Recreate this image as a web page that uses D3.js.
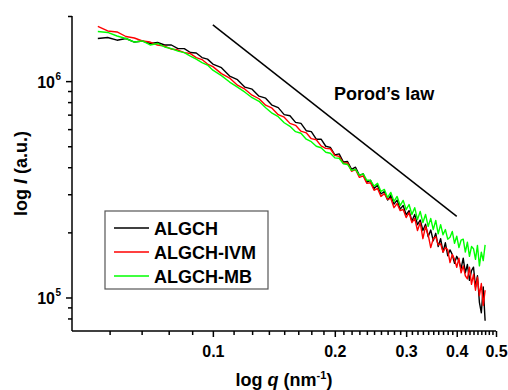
<!DOCTYPE html>
<html>
<head>
<meta charset="utf-8">
<script src="https://cdn.jsdelivr.net/npm/d3@7"></script>
<style>
  body { margin: 0; background: #fff; }
  svg text { font-family: "Liberation Sans", Arial, sans-serif; font-weight: bold; fill: #000; }
</style>
</head>
<body>
<figure id="saxs" style="margin:0"></figure>
<script>
// scattering vector q (nm^-1)
const q = [0.052,0.055,0.058,0.061,0.064,0.067,0.070,0.073,0.076,0.079,0.082,0.085,0.088,0.091,0.094,0.097,
  0.100,0.105,0.110,0.115,0.120,0.125,0.130,0.135,0.140,0.145,0.150,0.155,0.160,0.165,0.170,0.175,0.180,0.185,0.190,0.195,
  0.200,0.205,0.210,0.215,0.220,0.225,0.230,0.235,0.240,0.245,0.250,0.255,0.260,0.265,0.270,0.275,0.280,0.285,0.290,0.295,
  0.300,0.305,0.310,0.315,0.320,0.325,0.330,0.335,0.340,0.345,0.350,0.355,0.360,0.365,0.370,0.375,0.380,0.385,0.390,0.395,
  0.400,0.405,0.410,0.415,0.420,0.425,0.430,0.435,0.440,0.445,0.450,0.455,0.460,0.465,0.470];

// intensities, in units of 1e5 a.u.
const algch = [15.74,15.91,15.46,15.74,15.16,15.33,14.93,15.09,14.69,14.69,
  14.14,14.14,13.56,13.48,12.85,12.64,11.99,11.54,10.55,10.16,
  9.38,9.18,8.52,8.34,7.74,7.54,7.00,6.92,6.45,6.38,
  5.90,5.84,5.39,5.39,5.00,4.94,4.56,4.61,4.23,4.25,
  3.91,4.00,3.67,3.73,3.41,3.48,3.19,3.30,3.01,3.09,
  2.82,2.96,2.70,2.82,2.56,2.66,2.41,2.52,2.25,2.42,
  2.17,2.28,2.04,2.18,1.91,2.05,1.83,1.98,1.72,1.87,
  1.62,1.79,1.56,1.66,1.58,1.44,1.55,1.47,1.36,1.52,
  1.30,1.42,1.20,1.33,1.38,1.12,1.26,0.95,0.85,1.12,
  0.78];
const algchIvm = [17.89,17.06,16.88,16.08,15.82,15.33,15.16,14.69,14.53,14.07,
  13.92,13.55,13.41,12.85,12.58,11.99,11.67,10.83,10.33,9.58,
  9.18,8.61,8.29,7.74,7.50,7.00,6.81,6.38,6.25,5.87,
  5.77,5.42,5.36,5.02,4.89,4.87,4.54,4.49,4.17,4.19,
  3.83,3.91,3.59,3.65,3.37,3.39,3.13,3.19,2.93,3.02,
  2.84,2.87,2.60,2.72,2.52,2.55,2.34,2.47,2.22,2.32,
  2.04,2.22,1.87,2.13,1.95,1.70,1.87,1.91,1.75,1.77,
  1.62,1.70,1.66,1.45,1.58,1.50,1.38,1.52,1.30,1.40,
  1.26,1.22,1.38,1.15,1.28,1.08,1.24,1.02,1.16,0.92,
  1.08];
const algchMb = [16.97,16.79,16.17,15.74,15.16,15.33,14.69,14.93,14.38,14.14,
  13.77,13.55,13.06,12.64,12.18,11.86,11.24,10.60,9.90,9.38,
  8.89,8.38,8.07,7.54,7.11,6.85,6.42,6.18,5.84,5.74,
  5.39,5.25,5.00,4.92,4.69,4.64,4.42,4.40,4.15,4.12,
  3.87,3.91,3.67,3.73,3.48,3.48,3.27,3.37,3.09,3.16,
  2.90,3.06,2.78,2.93,2.66,2.81,2.55,2.69,2.42,2.60,
  2.29,2.50,2.22,2.42,2.13,2.32,2.06,2.27,1.97,2.17,
  1.95,2.06,1.86,1.90,2.02,1.78,1.92,1.70,1.84,1.86,
  1.62,1.80,1.55,1.72,1.68,1.50,1.74,1.40,1.62,1.48,
  1.75];

const seriesNames = ["ALGCH", "ALGCH-IVM", "ALGCH-MB"];
const seriesColors = ["#000000", "#ff0000", "#00ff00"];

// Porod's law guide line (q, I)
const porodQ = [0.1, 0.4];
const porodI = [1.82e6, 2.37e5];

const xMajor = [0.1, 0.2, 0.3, 0.4, 0.5];
const xMinor = [0.0556, 0.0667, 0.0778, 0.0889,
  0.1125, 0.125, 0.1375, 0.15, 0.1625, 0.175, 0.1875,
  0.21, 0.22, 0.23, 0.24, 0.25, 0.26, 0.27, 0.28, 0.29,
  0.31, 0.32, 0.33, 0.34, 0.35, 0.36, 0.37, 0.38, 0.39,
  0.41, 0.42, 0.43, 0.44, 0.45, 0.46, 0.47, 0.48, 0.49];
const yMajor = [1e5, 1e6];
const yMinor = [8e4, 9e4, 2e5, 3e5, 4e5, 5e5, 6e5, 7e5, 8e5, 9e5, 2e6];

const width = 508, height = 390;
const plotLeft = 72, plotRight = 496, plotTop = 16, plotBottom = 331;
const fontFam = "Liberation Sans, Arial, sans-serif";

const svg = d3.select("#saxs").append("svg")
  .attr("width", width)
  .attr("height", height);

const x = d3.scaleLog().domain([0.0449, 0.5]).range([plotLeft, plotRight]);
const y = d3.scaleLog().domain([7e4, 2e6]).range([plotBottom, plotTop]);

// curves
const allSeries = [algch, algchIvm, algchMb];
const line = d3.line()
  .x(d => x(d[0]))
  .y(d => y(d[1]));

allSeries.forEach((vals, i) => {
  const pts = q.map((qq, k) => [qq, vals[k] * 1e5]);
  svg.append("path")
    .datum(pts)
    .attr("d", line)
    .attr("fill", "none")
    .attr("stroke", seriesColors[i])
    .attr("stroke-width", 1.4)
    .attr("stroke-linejoin", "round");
});

// Porod line
svg.append("path")
  .datum(porodQ.map((qq, k) => [qq, porodI[k]]))
  .attr("d", line)
  .attr("stroke", "#000")
  .attr("stroke-width", 1.5);

svg.append("text")
  .attr("x", 334)
  .attr("y", 100)
  .attr("font-size", 18)
  .text("Porod\u2019s law");

// axes
const xAxisG = svg.append("g").attr("transform", "translate(0," + plotBottom + ")");
xAxisG.call(d3.axisBottom(x).tickValues(xMinor).tickSize(4).tickFormat(""));
xAxisG.call(g => g.select(".domain").remove());
const xMaj = svg.append("g").attr("transform", "translate(0," + plotBottom + ")");
xMaj.call(d3.axisBottom(x).tickValues(xMajor).tickSize(6).tickPadding(5).tickFormat(d3.format("")));
xMaj.select(".domain").attr("d", "M" + plotLeft + ",0H" + plotRight);
xMaj.selectAll("text")
  .attr("font-size", 16)
  .attr("font-family", fontFam)
  .attr("font-weight", "bold")
  .attr("dy", "0.95em");

const yAxisG = svg.append("g").attr("transform", "translate(" + plotLeft + ",0)");
yAxisG.call(d3.axisLeft(y).tickValues(yMinor).tickSize(4).tickFormat(""));
yAxisG.call(g => g.select(".domain").remove());
const yMaj = svg.append("g").attr("transform", "translate(" + plotLeft + ",0)");
yMaj.call(d3.axisLeft(y).tickValues(yMajor).tickSize(6).tickFormat(""));
yMaj.select(".domain").attr("d", "M0," + plotTop + "V" + plotBottom);

svg.selectAll("g.tick line, path.domain").attr("stroke", "#000").attr("stroke-width", 1.5);

svg.append("g").selectAll("text")
  .data(yMajor)
  .enter().append("text")
  .attr("x", 55)
  .attr("y", d => y(d) + 7)
  .attr("text-anchor", "end")
  .attr("font-size", 16)
  .attr("font-weight", "bold")
  .text("10");
svg.append("g").selectAll("text")
  .data(yMajor)
  .enter().append("text")
  .attr("x", 55.5)
  .attr("y", d => y(d) - 1)
  .attr("font-size", 10)
  .attr("font-weight", "bold")
  .text(d => Math.round(Math.log10(d)));

// axis titles
const xt = svg.append("text")
  .attr("x", (plotLeft + plotRight) / 2)
  .attr("y", 386)
  .attr("text-anchor", "middle")
  .attr("font-size", 18);
xt.append("tspan").text("log ");
xt.append("tspan").attr("font-style", "italic").text("q");
xt.append("tspan").text(" (nm");
xt.append("tspan").attr("font-size", 11).attr("dy", -7).text("-1");
xt.append("tspan").attr("dy", 7).text(")");

const yt = svg.append("text")
  .attr("transform", "translate(27," + (plotTop + plotBottom) / 2 + ") rotate(-90)")
  .attr("text-anchor", "middle")
  .attr("font-size", 18);
yt.append("tspan").text("log ");
yt.append("tspan").attr("font-style", "italic").text("I");
yt.append("tspan").text(" (a.u.)");

// legend
const legend = svg.append("g").attr("transform", "translate(105,211)");
legend.append("rect")
  .attr("width", 163)
  .attr("height", 78)
  .attr("fill", "#fff")
  .attr("stroke", "#555")
  .attr("stroke-width", 1.2);
seriesNames.forEach((name, i) => {
  const ry = 17 + i * 24;
  legend.append("line")
    .attr("x1", 9).attr("x2", 44)
    .attr("y1", ry).attr("y2", ry)
    .attr("stroke", seriesColors[i])
    .attr("stroke-width", 1.5);
  legend.append("text")
    .attr("x", 49)
    .attr("y", ry + 6.5)
    .attr("font-size", 18)
    .text(name);
});
</script>
</body>
</html>
